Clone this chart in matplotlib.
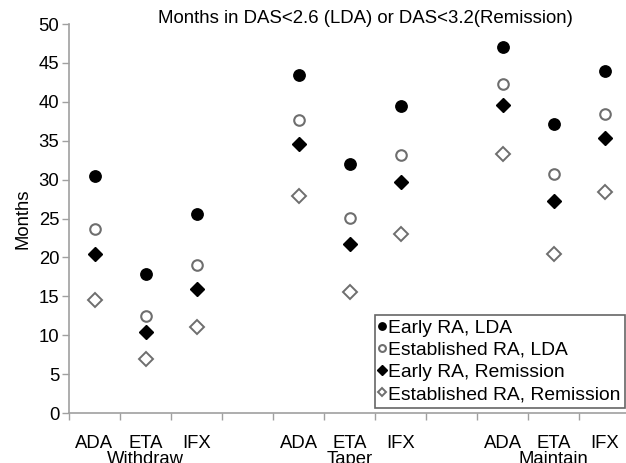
import matplotlib
matplotlib.use("Agg")
import matplotlib.pyplot as plt
from matplotlib.ticker import FixedLocator, NullFormatter

plt.rcParams['font.family'] = ['Liberation Sans', 'DejaVu Sans']

drugs = ["ADA", "ETA", "IFX"]
strategies = ["Withdraw", "Taper", "Maintain"]
series_names = ["Early RA, LDA", "Established RA, LDA",
                "Early RA, Remission", "Established RA, Remission"]

# order: Withdraw ADA, ETA, IFX, Taper ADA, ETA, IFX, Maintain ADA, ETA, IFX
early_lda = [30.4, 17.9, 25.6, 43.4, 32.0, 39.5, 47.0, 37.2, 43.9]
est_lda = [23.7, 12.5, 19.0, 37.7, 25.1, 33.2, 42.3, 30.7, 38.4]
early_rem = [20.4, 10.4, 16.0, 34.6, 21.7, 29.7, 39.6, 27.2, 35.3]
est_rem = [14.5, 6.9, 11.0, 27.9, 15.6, 23.0, 33.3, 20.5, 28.4]

W, H = 626, 463
FS = 13.3
fig = plt.figure(figsize=(W / 100, H / 100), dpi=100)
ax = fig.add_axes([69 / W, (H - 413) / H, 1 - 69 / W, (413 - 24) / H])

# positions: three groups of three with a blank slot between groups
xs = []
for g in range(len(strategies)):
    for d in range(len(drugs)):
        xs.append(g * 4 + d)

gray = "#6e6e6e"
ax.plot(xs, early_lda, linestyle="none", marker="o", ms=8.2,
        mfc="black", mec="black", mew=1.0, label=series_names[0])
ax.plot(xs, est_lda, linestyle="none", marker="o", ms=7.6,
        mfc="white", mec=gray, mew=1.5, label=series_names[1])
ax.plot(xs, early_rem, linestyle="none", marker="D", ms=7.2,
        mfc="black", mec="black", mew=1.0, label=series_names[2])
ax.plot(xs, est_rem, linestyle="none", marker="D", ms=6.8,
        mfc="white", mec=gray, mew=1.4, label=series_names[3])

ax.set_ylim(0, 50)
ax.set_yticks(range(0, 51, 5))
ax.set_xlim(-0.5, 10.42)

# boundary tick marks (major), labels at category centres (minor)
ax.xaxis.set_major_locator(FixedLocator([i - 0.5 for i in range(12)]))
ax.xaxis.set_major_formatter(NullFormatter())
ax.xaxis.set_minor_locator(FixedLocator(xs))
ax.set_xticklabels(drugs * 3, minor=True)
ax.tick_params(axis="x", which="major", length=5, color="#a0a0a0", width=1)
ax.tick_params(axis="x", which="minor", length=0, pad=15.5, labelsize=FS)
ax.tick_params(axis="y", length=5, color="#a0a0a0", width=1, labelsize=FS, pad=2)

for s in ["top", "right"]:
    ax.spines[s].set_visible(False)
for s in ["left", "bottom"]:
    ax.spines[s].set_color("#a0a0a0")
    ax.spines[s].set_linewidth(1.2)

ax.set_ylabel("Months", fontsize=FS, labelpad=5)

# group labels under the drug labels
for g, name in enumerate(strategies):
    ax.annotate(name, xy=(g * 4 + 1, 0), xycoords=("data", "axes fraction"),
                xytext=(0, -27), textcoords="offset points",
                ha="center", va="top", fontsize=FS)

fig.text(365 / W, 1 - 23 / H, "Months in DAS<2.6 (LDA) or DAS<3.2(Remission)",
         ha="center", va="baseline", fontsize=13.4)

leg = ax.legend(loc="lower right", bbox_to_anchor=(624.5 / W, (H - 407.5) / H),
                bbox_transform=fig.transFigure, borderaxespad=0,
                fontsize=13.9, frameon=True, fancybox=False,
                handlelength=0.26, handletextpad=0.2, borderpad=0.22,
                labelspacing=0.24, markerscale=0.65)
leg.get_frame().set_edgecolor("#404040")
leg.get_frame().set_linewidth(1.2)

fig.savefig("out.png", dpi=100)
